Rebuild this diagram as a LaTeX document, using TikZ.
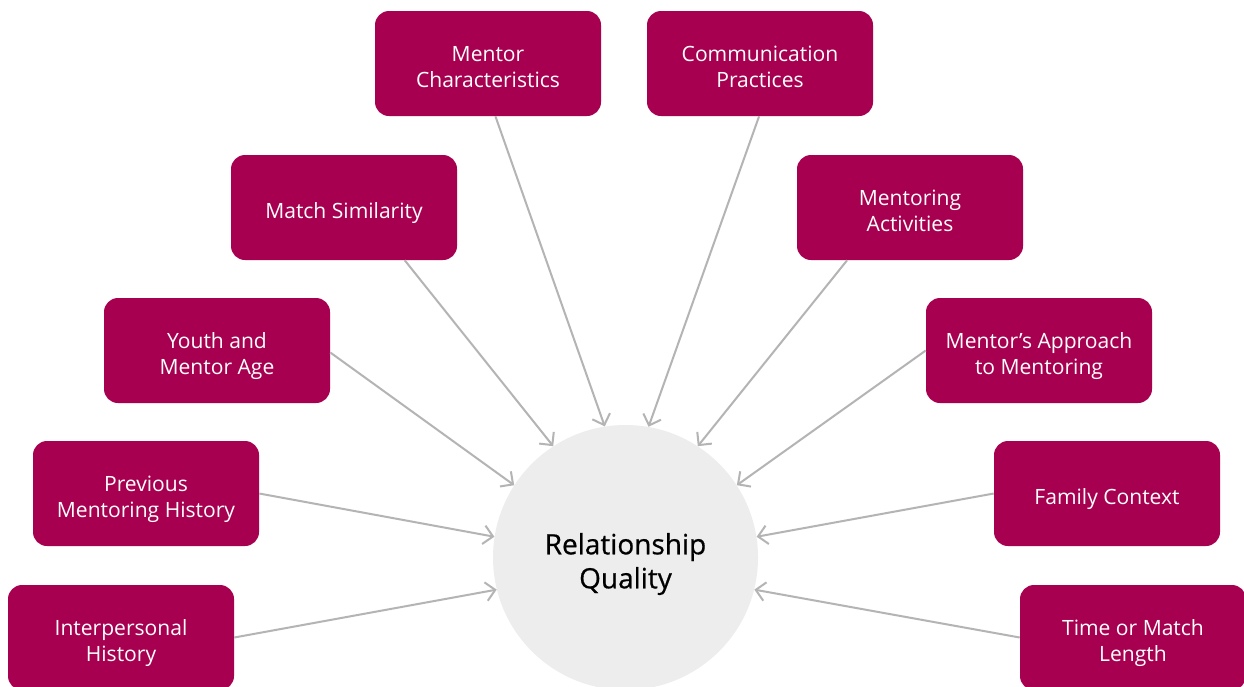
\documentclass[tikz,border=0pt]{standalone}
\usepackage{fontspec}
\setmainfont{Open Sans}
\newfontfamily\hubfont[FakeBold=0.6]{Open Sans}
\usetikzlibrary{arrows.meta}
\definecolor{mag}{RGB}{168,0,80}
\definecolor{circ}{RGB}{237,237,237}
\definecolor{arr}{RGB}{180,180,180}
\newcommand\ftxt[2][4.5pt]{\raisebox{-#1}[\height][\depth]{\begin{tabular}{@{}c@{}}#2\end{tabular}}}
\begin{document}
\begin{tikzpicture}[x=0.75pt,y=-0.75pt,
  factor/.style={fill=mag,draw=none,rounded corners=10.5pt,minimum width=169.5pt,minimum height=78.75pt,
    text=white,align=center,inner sep=0pt,font=\fontsize{15.8pt}{19.5pt}\selectfont},
  hub/.style={circle,fill=circ,draw=none,minimum size=198.75pt,inner sep=0pt,align=center,
    font=\hubfont\fontsize{21pt}{25.5pt}\selectfont},
  link/.style={draw=arr,line width=1.5pt,-{Straight Barb[length=7pt,width=14pt,line width=1.5pt]}}]
\useasboundingbox (0,0) rectangle (1244,686);
\clip (0,0) rectangle (1244,686);
\fill[white] (0,0) rectangle (1244,686);
\node[hub] (rq) at (625.5,557.5) {\ftxt[5.25pt]{Relationship\\Quality}};
\node[factor] (mc) at (488,63.5) {\ftxt{Mentor\\Characteristics}};
\node[factor] (cp) at (760,63.5) {\ftxt{Communication\\Practices}};
\node[factor] (ms) at (344,207.5) {\ftxt{Match Similarity}};
\node[factor] (ma) at (910,207.5) {\ftxt{Mentoring\\Activities}};
\node[factor] (ym) at (217,350.5) {\ftxt{Youth and\\Mentor Age}};
\node[factor] (map) at (1039,350.5) {\ftxt{Mentor’s Approach\\to Mentoring}};
\node[factor] (pm) at (146,493.5) {\ftxt{Previous\\Mentoring History}};
\node[factor] (fc) at (1107,493.5) {\ftxt{Family Context}};
\node[factor] (ih) at (121,637.5) {\ftxt{Interpersonal\\History}};
\node[factor] (tm) at (1133,637.5) {\ftxt{Time or Match\\Length}};
\draw[link] (mc.-82) -- (rq.99);
\draw[link] (cp.-91) -- (rq.80);
\draw[link] (ms.-41) -- (rq.123);
\draw[link] (ma.220) -- (rq.57);
\draw[link] (ym.-1) -- (rq.147);
\draw[link] (map.west) -- (rq.33);
\draw[link] (pm.east) -- (rq.171);
\draw[link] (fc.west) -- (rq.9);
\draw[link] (ih.east) -- (rq.194);
\draw[link] (tm.west) -- (rq.-14);
\end{tikzpicture}
\end{document}
